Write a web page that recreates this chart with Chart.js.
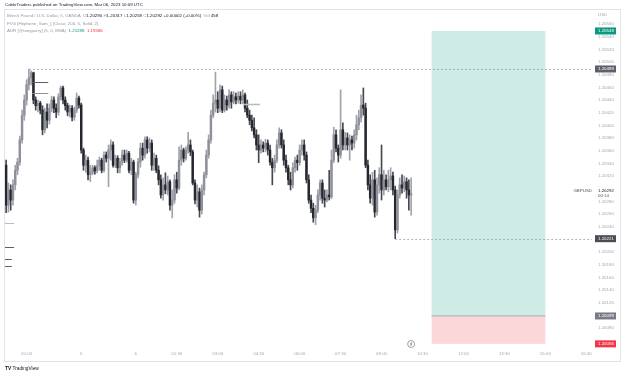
<!DOCTYPE html>
<html><head><meta charset="utf-8">
<script src="https://cdn.jsdelivr.net/npm/chart.js@4.4.0/dist/chart.umd.min.js"></script>
<style>
html,body{margin:0;padding:0;background:#fff;width:625px;height:375px;overflow:hidden;font-family:"Liberation Sans",Arial,sans-serif}
#frame{position:absolute;left:4px;top:9px;width:617px;height:353px;border:1px solid #e0e3eb;box-sizing:border-box}
#c{position:absolute;left:0;top:0}
.t{position:absolute;white-space:nowrap;line-height:1;font-size:4.4px}
.g{color:#9598a1}.d{color:#131722}
</style></head><body>
<div id="frame"></div>
<canvas id="c" width="625" height="375"></canvas>
<div class="t d" style="left:5px;top:3px">CableTraders published on TradingView.com, Mar 06, 2023 10:09 UTC</div>
<div class="t g" style="left:7px;top:14px">British Pound / U.S. Dollar, 5, OANDA &nbsp;O<span class="d">1.20290</span> H<span class="d">1.20317</span> L<span class="d">1.20258</span> C<span class="d">1.20292</span> <span class="d">+0.00002 (+0.00%)</span> &nbsp;Vol <span class="d">458</span></div>
<div class="t g" style="left:7px;top:22px">FVG [Hephene_Sam_] (Close, 200, 5, Solid, 2)</div>
<div class="t g" style="left:7px;top:29px">ADR [@tonyparry] (5, 0, EMA) &nbsp;<span style="color:#089981">1.21288</span> &nbsp;<span style="color:#f23645">1.19586</span></div>
<div class="t d" style="left:5px;top:367px;font-size:4.8px"><b>TV</b> TradingView</div>
<script>
// ---- categories: 5-minute bar slots (Fri 19:15 -> Fri 21:55, Sun 22:00 -> 23:55, Mon 00:00 -> 16:40)
function slotRun(h, m, count) {
  const out = [];
  for (let k = 0; k < count; k++) {
    const t = h * 60 + m + k * 5;
    out.push(String(Math.floor(t / 60) % 24).padStart(2, '0') + ':' + String(t % 60).padStart(2, '0'));
  }
  return out;
}
const timeLabels = [...slotRun(19, 15, 33), ...slotRun(22, 0, 24), ...slotRun(0, 0, 201)];

// ---- time axis tick labels
const timeTickAt   = ['20:00','22:00','00:00','01:30','03:00','04:30','06:00','07:30','09:00','10:30','12:00','13:30','15:00','16:30'];
const timeTickText = ['20:00','5','6','01:30','03:00','04:30','06:00','07:30','09:00','10:30','12:00','13:30','15:00','16:30'];

// ---- price axis tick labels
const priceTicks = ['1.20560','1.20540','1.20520','1.20500','1.20480','1.20460','1.20440','1.20420','1.20400','1.20380','1.20360','1.20340','1.20320','1.20300','1.20280','1.20260','1.20240','1.20220','1.20200','1.20180','1.20160','1.20140','1.20120','1.20100','1.20080'];

// ---- GBPUSD 5m OHLC
const openP = [1.20337,1.20274,1.20298,1.20282,1.20306,1.20329,1.20342,1.20377,1.20416,1.20440,1.20464,1.20475,1.20483,1.20440,1.20431,1.20435,1.20424,1.20393,1.20421,1.20408,1.20427,1.20440,1.20427,1.20421,1.20445,1.20459,1.20440,1.20431,1.20421,1.20427,1.20413,1.20424,1.20443,
1.20432,1.20361,1.20337,1.20345,1.20322,1.20326,1.20333,1.20328,1.20336,1.20345,1.20329,1.20353,1.20348,1.20361,1.20369,1.20337,1.20348,1.20333,1.20342,1.20353,1.20345,1.20356,1.20329,1.20342,
1.20282,1.20322,1.20342,1.20364,1.20353,1.20377,1.20364,1.20372,1.20337,1.20348,1.20329,1.20314,1.20290,1.20306,1.20298,1.20311,1.20274,1.20282,1.20314,1.20301,1.20345,1.20361,1.20348,1.20361,1.20369,1.20358,1.20309,1.20282,1.20295,1.20266,1.20298,1.20322,1.20353,1.20377,1.20416,1.20435,1.20440,1.20427,1.20456,1.20424,1.20440,1.20432,1.20448,1.20437,1.20445,1.20440,1.20446,1.20440,1.20448,1.20427,1.20416,1.20408,1.20396,1.20385,1.20369,1.20361,1.20369,1.20364,1.20372,1.20361,1.20342,1.20333,1.20345,1.20369,1.20388,1.20369,1.20345,1.20333,1.20314,1.20306,1.20333,1.20345,1.20341,1.20361,1.20369,1.20353,1.20314,1.20282,1.20269,1.20254,1.20266,1.20290,1.20309,1.20285,1.20282,1.20290,1.20287,1.20345,1.20385,1.20364,1.20353,1.20393,1.20369,1.20380,1.20369,1.20377,1.20372,1.20385,1.20401,1.20412,1.20432,1.20427,1.20337,1.20306,1.20285,1.20314,1.20263,1.20306,1.20322,1.20298,1.20314,1.20303,1.20314,1.20320,1.20298,1.20235,1.20290,1.20306,1.20301,1.20311,1.20298,1.20290];
const highP = [1.20345,1.20309,1.20306,1.20314,1.20337,1.20348,1.20383,1.20424,1.20448,1.20472,1.20489,1.20486,1.20484,1.20445,1.20440,1.20438,1.20431,1.20427,1.20434,1.20434,1.20446,1.20445,1.20434,1.20450,1.20462,1.20462,1.20445,1.20435,1.20432,1.20431,1.20429,1.20451,1.20446,
1.20435,1.20364,1.20353,1.20350,1.20337,1.20337,1.20336,1.20345,1.20350,1.20348,1.20358,1.20358,1.20369,1.20377,1.20374,1.20353,1.20352,1.20348,1.20361,1.20361,1.20361,1.20359,1.20348,1.20345,
1.20326,1.20348,1.20372,1.20372,1.20382,1.20382,1.20380,1.20377,1.20356,1.20353,1.20336,1.20322,1.20317,1.20325,1.20320,1.20314,1.20298,1.20322,1.20326,1.20366,1.20369,1.20364,1.20366,1.20389,1.20377,1.20361,1.20314,1.20306,1.20301,1.20306,1.20326,1.20361,1.20385,1.20424,1.20448,1.20484,1.20453,1.20464,1.20462,1.20448,1.20446,1.20456,1.20453,1.20453,1.20451,1.20453,1.20453,1.20456,1.20451,1.20440,1.20424,1.20416,1.20412,1.20393,1.20385,1.20377,1.20374,1.20378,1.20377,1.20369,1.20348,1.20353,1.20377,1.20396,1.20393,1.20377,1.20353,1.20337,1.20326,1.20341,1.20350,1.20353,1.20369,1.20377,1.20377,1.20358,1.20322,1.20290,1.20277,1.20274,1.20298,1.20314,1.20314,1.20298,1.20298,1.20329,1.20361,1.20397,1.20393,1.20369,1.20456,1.20404,1.20389,1.20388,1.20385,1.20383,1.20393,1.20416,1.20424,1.20448,1.20459,1.20435,1.20345,1.20322,1.20326,1.20329,1.20317,1.20333,1.20369,1.20329,1.20322,1.20329,1.20333,1.20326,1.20304,1.20298,1.20317,1.20322,1.20320,1.20317,1.20314,1.20317];
const lowP = [1.20262,1.20263,1.20266,1.20274,1.20298,1.20322,1.20337,1.20372,1.20408,1.20432,1.20456,1.20464,1.20434,1.20424,1.20421,1.20418,1.20385,1.20388,1.20396,1.20402,1.20421,1.20420,1.20412,1.20416,1.20440,1.20434,1.20424,1.20415,1.20413,1.20407,1.20408,1.20420,1.20427,
1.20356,1.20329,1.20326,1.20314,1.20311,1.20322,1.20323,1.20325,1.20329,1.20325,1.20326,1.20342,1.20303,1.20345,1.20334,1.20333,1.20325,1.20325,1.20337,1.20341,1.20342,1.20325,1.20322,1.20277,
1.20274,1.20317,1.20334,1.20345,1.20348,1.20356,1.20358,1.20329,1.20329,1.20325,1.20306,1.20285,1.20282,1.20292,1.20290,1.20266,1.20254,1.20277,1.20293,1.20298,1.20337,1.20342,1.20345,1.20356,1.20352,1.20306,1.20276,1.20271,1.20255,1.20260,1.20290,1.20317,1.20348,1.20372,1.20412,1.20421,1.20420,1.20421,1.20420,1.20421,1.20424,1.20427,1.20427,1.20434,1.20434,1.20435,1.20434,1.20434,1.20421,1.20412,1.20401,1.20391,1.20380,1.20361,1.20341,1.20356,1.20358,1.20358,1.20353,1.20337,1.20306,1.20326,1.20341,1.20364,1.20364,1.20337,1.20326,1.20306,1.20298,1.20301,1.20326,1.20329,1.20337,1.20353,1.20345,1.20309,1.20277,1.20262,1.20247,1.20243,1.20262,1.20282,1.20277,1.20271,1.20279,1.20282,1.20284,1.20341,1.20358,1.20342,1.20348,1.20361,1.20361,1.20361,1.20345,1.20361,1.20364,1.20377,1.20393,1.20405,1.20416,1.20333,1.20298,1.20277,1.20274,1.20255,1.20258,1.20293,1.20282,1.20290,1.20298,1.20295,1.20298,1.20290,1.20221,1.20230,1.20285,1.20293,1.20295,1.20285,1.20266,1.20258];
const closeP = [1.20274,1.20298,1.20282,1.20306,1.20329,1.20342,1.20377,1.20416,1.20440,1.20464,1.20475,1.20483,1.20440,1.20431,1.20435,1.20424,1.20393,1.20421,1.20408,1.20427,1.20440,1.20427,1.20421,1.20445,1.20459,1.20440,1.20431,1.20421,1.20427,1.20413,1.20424,1.20443,1.20432,
1.20361,1.20337,1.20345,1.20322,1.20326,1.20333,1.20328,1.20336,1.20345,1.20329,1.20353,1.20348,1.20361,1.20369,1.20337,1.20348,1.20333,1.20342,1.20353,1.20345,1.20356,1.20329,1.20342,1.20282,
1.20322,1.20342,1.20364,1.20353,1.20377,1.20364,1.20372,1.20337,1.20348,1.20329,1.20314,1.20290,1.20306,1.20298,1.20311,1.20274,1.20282,1.20314,1.20301,1.20345,1.20361,1.20348,1.20361,1.20369,1.20358,1.20309,1.20282,1.20295,1.20266,1.20298,1.20322,1.20353,1.20377,1.20416,1.20435,1.20440,1.20427,1.20456,1.20424,1.20440,1.20432,1.20448,1.20437,1.20445,1.20440,1.20446,1.20440,1.20448,1.20427,1.20416,1.20408,1.20396,1.20385,1.20369,1.20361,1.20369,1.20364,1.20372,1.20361,1.20342,1.20333,1.20345,1.20369,1.20388,1.20369,1.20345,1.20333,1.20314,1.20306,1.20333,1.20345,1.20341,1.20361,1.20369,1.20353,1.20314,1.20282,1.20269,1.20254,1.20266,1.20290,1.20309,1.20285,1.20282,1.20290,1.20287,1.20345,1.20385,1.20364,1.20353,1.20393,1.20369,1.20380,1.20369,1.20377,1.20372,1.20385,1.20401,1.20412,1.20432,1.20427,1.20337,1.20306,1.20285,1.20314,1.20263,1.20306,1.20322,1.20298,1.20314,1.20303,1.20314,1.20320,1.20298,1.20235,1.20290,1.20306,1.20301,1.20311,1.20298,1.20290,1.20292];

// ---- long position tool (target / entry / stop) and its time span
const posTarget = 1.20549, posEntry = 1.20099, posStop = 1.20055;
const posFrom = '10:50', posTo = '15:00';
// ---- high / low reference lines
const refLines = [[1.20489, '20:05'], [1.20221, '09:30']];
// ---- FVG indicator segments: price, from, to
const fvgPrice = [1.20468, 1.20451, 1.20434, 1.20246, 1.20208, 1.20189, 1.20178];
const fvgFrom  = ['20:15', '20:15', '04:00', '19:15', '19:15', '19:15', '19:15'];
const fvgTo    = ['20:45', '20:45', '04:30', '19:30', '19:30', '19:25', '19:25'];
// ---- price-axis labels
const axisLabelPrice = [1.20549, 1.20489, 1.20221, 1.20099, 1.20055];
const axisLabelText  = ['1.20549', '1.20489', '1.20221', '1.20099', '1.20055'];
const lastPrice = '1.20292', countdown = '00:14', symbol = 'GBPUSD';

const UP = '#8e9199', DOWN = '#24272e';
const barColors = closeP.map((c, i) => c >= openP[i] ? UP : DOWN);
const wickColors = closeP.map((c, i) => c >= openP[i] ? '#a0a3ab' : '#45484f');

Chart.defaults.font.family = '"Liberation Sans", Arial, sans-serif';

const overlay = {
  id: 'overlay',
  beforeDatasetsDraw(chart) {
    const ctx = chart.ctx, xs = chart.scales.x, ys = chart.scales.y;
    const x1 = xs.getPixelForValue(timeLabels.indexOf(posFrom));
    const x2 = xs.getPixelForValue(timeLabels.indexOf(posTo));
    const yT = ys.getPixelForValue(posTarget), yE = ys.getPixelForValue(posEntry), yS = ys.getPixelForValue(posStop);
    ctx.save();
    ctx.fillStyle = 'rgba(8,153,129,0.2)';
    ctx.fillRect(x1, yT, x2 - x1, yE - yT);
    ctx.fillStyle = 'rgba(242,54,69,0.2)';
    ctx.fillRect(x1, yE, x2 - x1, yS - yE);
    ctx.strokeStyle = '#9598a1'; ctx.lineWidth = 0.8;
    ctx.beginPath(); ctx.moveTo(x1, yE); ctx.lineTo(x2, yE); ctx.stroke();
    ctx.restore();
  },
  afterDatasetsDraw(chart) {
    const ctx = chart.ctx, xs = chart.scales.x, ys = chart.scales.y, a = chart.chartArea;
    const half = (xs.getPixelForValue(1) - xs.getPixelForValue(0)) / 2;
    ctx.save();
    ctx.strokeStyle = '#9598a1'; ctx.lineWidth = 0.7; ctx.setLineDash([2, 2]);
    refLines.forEach(([p, t]) => {
      const y = Math.round(ys.getPixelForValue(p)) + 0.5;
      ctx.beginPath(); ctx.moveTo(xs.getPixelForValue(timeLabels.indexOf(t)), y); ctx.lineTo(a.right, y); ctx.stroke();
    });
    ctx.setLineDash([]);
    fvgPrice.forEach((p, k) => {
      const y = Math.round(ys.getPixelForValue(p)) + 0.5;
      const xa = xs.getPixelForValue(timeLabels.indexOf(fvgFrom[k])) - half;
      const xb = xs.getPixelForValue(timeLabels.indexOf(fvgTo[k])) + half;
      ctx.strokeStyle = (k === 2 || k === 3) ? '#b8bbc2' : (k === 1 ? '#8e9199' : '#5d606b');
      ctx.lineWidth = k === 2 ? 1.6 : 1;
      ctx.beginPath(); ctx.moveTo(xa, y); ctx.lineTo(xb, y); ctx.stroke();
    });
    ctx.restore();
  },
  afterDraw(chart) {
    const ctx = chart.ctx, xs = chart.scales.x, ys = chart.scales.y, a = chart.chartArea;
    ctx.save();
    ctx.font = '4.4px "Liberation Sans", Arial, sans-serif';
    ctx.textBaseline = 'middle';
    ctx.fillStyle = '#a3a6af'; ctx.textAlign = 'left';
    ctx.fillText('USD', a.right + 6, a.top + 5);
    const bg = ['#089981', '#5d606b', '#4a4d56', '#787b86', '#f23645'];
    axisLabelPrice.forEach((p, k) => {
      const y = ys.getPixelForValue(p);
      ctx.fillStyle = bg[k];
      ctx.fillRect(a.right + 3, y - 3.5, 21, 7);
      ctx.fillStyle = '#ffffff';
      ctx.fillText(axisLabelText[k], a.right + 6, y + 0.3);
    });
    // last price label
    const yl = ys.getPixelForValue(closeP[closeP.length - 1]);
    ctx.fillStyle = '#ffffff';
    ctx.fillRect(a.right + 2, yl - 6.5, 24, 11);
    ctx.fillStyle = '#131722';
    ctx.fillText(lastPrice, a.right + 6, yl - 2.5);
    ctx.fillStyle = '#50535e';
    ctx.fillText(countdown, a.right + 6, yl + 1.8);
    ctx.textAlign = 'right'; ctx.fillStyle = '#50535e';
    ctx.fillText(symbol, a.right, yl - 2.5);
    // event icon under last bar
    const xi = xs.getPixelForValue(closeP.length - 1);
    const yi = a.bottom - 3;
    ctx.strokeStyle = '#787b86'; ctx.lineWidth = 0.7;
    ctx.beginPath(); ctx.arc(xi, yi, 3.5, 0, Math.PI * 2); ctx.stroke();
    ctx.beginPath(); ctx.moveTo(xi + 0.8, yi - 2); ctx.lineTo(xi - 0.8, yi + 0.2); ctx.lineTo(xi + 0.8, yi - 0.2); ctx.lineTo(xi - 0.8, yi + 2); ctx.stroke();
    ctx.restore();
  }
};

new Chart(document.getElementById('c'), {
  type: 'bar',
  data: {
    labels: timeLabels,
    datasets: [
      { data: lowP.map((l, i) => [l, highP[i]]), backgroundColor: wickColors, barThickness: 1, grouped: false, order: 2 },
      { data: openP.map((o, i) => [o, closeP[i]]), backgroundColor: barColors, barThickness: 1.8, minBarLength: 0.8, grouped: false, order: 1 }
    ]
  },
  options: {
    responsive: false, animation: false, events: [],
    layout: { padding: { left: 5, right: 5, top: 10, bottom: 14 } },
    plugins: { legend: { display: false }, tooltip: { enabled: false } },
    scales: {
      x: {
        type: 'category', offset: true,
        grid: { display: false, drawTicks: false }, border: { display: false },
        ticks: {
          autoSkip: false, maxRotation: 0, minRotation: 0, padding: 4, color: '#a3a6af', font: { size: 4.4 },
          callback(v) { return timeTickText[timeTickAt.indexOf(this.getLabelForValue(v))]; }
        },
        afterBuildTicks(s) { s.ticks = timeTickAt.map(t => ({ value: timeLabels.indexOf(t) })); },
        afterFit(s) { s.height = 14; }
      },
      y: {
        position: 'right', min: 1.2005, max: 1.205821,
        grid: { display: false, drawTicks: false }, border: { display: false },
        ticks: { padding: 6, color: '#a3a6af', font: { size: 4.4 }, callback: v => v.toFixed(5) },
        afterBuildTicks(s) { s.ticks = priceTicks.map(v => ({ value: parseFloat(v) })); },
        afterFit(s) { s.width = 28; }
      }
    }
  },
  plugins: [overlay]
});
</script>
</body></html>
